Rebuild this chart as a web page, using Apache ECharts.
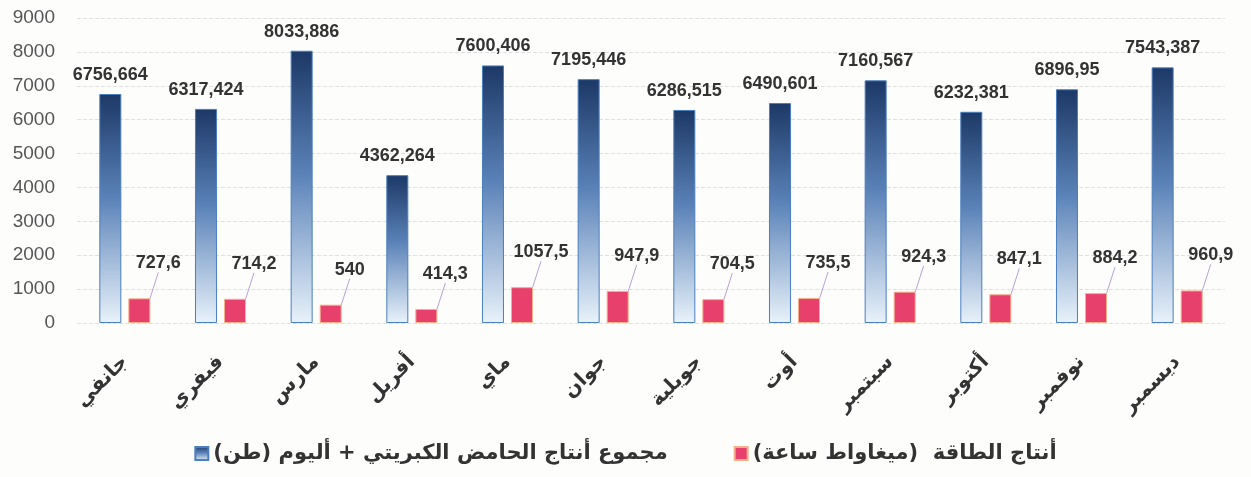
<!DOCTYPE html>
<html><head><meta charset="utf-8">
<script src="https://cdn.jsdelivr.net/npm/echarts@6/dist/echarts.min.js"></script>
<style>html,body{margin:0;padding:0;background:#fdfdfc;}#c{width:1251px;height:477px;}</style>
</head><body><div id="c"></div>
<script>
const categories = ['جانفي','فيفري','مارس','أفريل','ماي','جوان','جويلية','أوت','سبتمبر','أكتوبر','نوفمبر','ديسمبر'];
const acidOleum = [6756.664, 6317.424, 8033.886, 4362.264, 7600.406, 7195.446, 6286.515, 6490.601, 7160.567, 6232.381, 6896.95, 7543.387];
const energy = [727.6, 714.2, 540, 414.3, 1057.5, 947.9, 704.5, 735.5, 924.3, 847.1, 884.2, 960.9];
const seriesNames = ['مجموع أنتاج الحامض الكبريتي + أليوم (طن)', 'أنتاج الطاقة  (ميغاواط ساعة)'];

const fmt = p => String(p.value).replace('.', ',');
const chart = echarts.init(document.getElementById('c'));
chart.setOption({
  backgroundColor: '#fdfdfc',
  animation: false,
  grid: {left: 77, right: 26, top: 18, bottom: 154},
  legend: {
    bottom: 8, left: 'center', itemGap: 66, itemWidth: 13, itemHeight: 13,
    textStyle: {fontFamily: 'DejaVu Sans', fontWeight: 'bold', fontSize: 21, color: '#333'},
    data: [{name: seriesNames[0], icon: 'rect'}, {name: seriesNames[1], icon: 'rect'}]
  },
  xAxis: {
    type: 'category', data: categories,
    axisLine: {show: false}, axisTick: {show: false},
    axisLabel: {rotate: 45, interval: 0, margin: 36, fontFamily: 'DejaVu Sans', fontWeight: 'bold', fontSize: 20, color: '#333'}
  },
  yAxis: {
    type: 'value', min: 0, max: 9000, interval: 1000,
    axisLine: {show: false}, axisTick: {show: false},
    axisLabel: {margin: 22, fontFamily: 'Liberation Sans', fontSize: 19, color: '#555', formatter: v => String(v)},
    splitLine: {lineStyle: {color: '#e0e0e0', type: 'dashed', width: 1}}
  },
  series: [
    {
      name: seriesNames[0], type: 'bar', data: acidOleum, barWidth: 22, barGap: '32%',
      itemStyle: {
        color: new echarts.graphic.LinearGradient(0, 0, 0, 1, [
          {offset: 0, color: '#1c3866'}, {offset: 0.45, color: '#5a82b8'}, {offset: 1, color: '#e8f2fa'}
        ]),
        borderColor: '#4a7fc0', borderWidth: 1
      },
      label: {show: true, position: 'top', distance: 10, formatter: fmt,
        fontFamily: 'Liberation Sans', fontWeight: 'bold', fontSize: 18, color: '#333'}
    },
    {
      name: seriesNames[1], type: 'bar', data: energy, barWidth: 22,
      itemStyle: {color: '#e8406c', borderColor: '#f4b08a', borderWidth: 1},
      label: {show: true, position: 'top', distance: 5, formatter: fmt,
        fontFamily: 'Liberation Sans', fontWeight: 'bold', fontSize: 18, color: '#333'},
      labelLayout: {dx: 19, dy: -21},
      labelLine: {show: true, length2: 0, lineStyle: {color: '#b9a0d6', width: 1}}
    }
  ]
});
</script></body></html>
